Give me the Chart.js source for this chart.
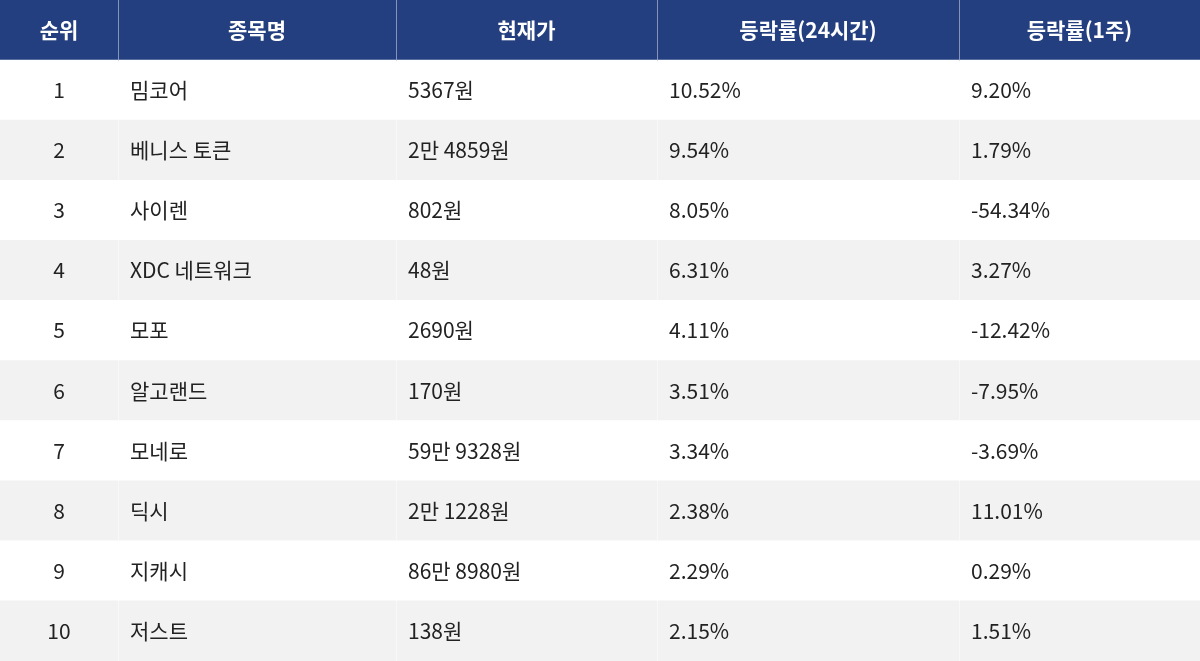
<!DOCTYPE html>
<html><head><meta charset="utf-8">
<script src="https://cdn.jsdelivr.net/npm/chart.js@4"></script>
<style>html,body{margin:0;padding:0;background:#fff}#w{width:1200px;height:661px}</style>
</head><body><div id="w"><canvas id="c"></canvas></div>
<script>
const headers = ['순위','종목명','현재가','등락률(24시간)','등락률(1주)'];
const ranks = ['1','2','3','4','5','6','7','8','9','10'];
const names = ['밈코어','베니스 토큰','사이렌','XDC 네트워크','모포','알고랜드','모네로','딕시','지캐시','저스트'];
const prices = ['5367원','2만 4859원','802원','48원','2690원','170원','59만 9328원','2만 1228원','86만 8980원','138원'];
const change24h = ['10.52%','9.54%','8.05%','6.31%','4.11%','3.51%','3.34%','2.38%','2.29%','2.15%'];
const change1w = ['9.20%','1.79%','-54.34%','3.27%','-12.42%','-7.95%','-3.69%','11.01%','0.29%','1.51%'];

const colEdges = [0,118,396,657,959,1200];
const columns = [ranks,names,prices,change24h,change1w];
const rowLabels = ['header'].concat(ranks);
const fillFor = i => i===0 ? '#233f7f' : (i%2===1 ? '#ffffff' : '#f2f2f2');
const FONT = '"Noto Sans CJK KR","Noto Sans",sans-serif';

const datasets = columns.map((col,ci)=>({
  data: rowLabels.map(()=>[colEdges[ci]+(ci?1:0), colEdges[ci+1]]),
  backgroundColor: rowLabels.map((_,i)=>fillFor(i)),
  borderWidth:0, grouped:false, barPercentage:1, categoryPercentage:1
}));

const textPlugin = {
  id:'cells',
  afterDatasetsDraw(chart){
    const ctx=chart.ctx, x=chart.scales.x, y=chart.scales.y;
    ctx.save(); ctx.textBaseline='middle';
    headers.forEach((h,ci)=>{
      ctx.font='bold 21px '+FONT; ctx.fillStyle='#ffffff'; ctx.textAlign='center';
      ctx.fillText(h,(x.getPixelForValue(colEdges[ci])+x.getPixelForValue(colEdges[ci+1]))/2,y.getPixelForValue(0));
    });
    columns.forEach((col,ci)=>{
      col.forEach((v,ri)=>{
        ctx.font='21px '+FONT; ctx.fillStyle='#222';
        const yy=y.getPixelForValue(ri+1);
        if(ci===0){ctx.textAlign='center';ctx.fillText(v,(x.getPixelForValue(colEdges[0])+x.getPixelForValue(colEdges[1]))/2,yy);}
        else{ctx.textAlign='left';ctx.fillText(v,x.getPixelForValue(colEdges[ci])+12,yy);}
      });
    });
    ctx.restore();
  }
};

new Chart(document.getElementById('c'),{
  type:'bar',
  data:{labels:rowLabels,datasets},
  options:{
    indexAxis:'y',responsive:true,maintainAspectRatio:false,animation:false,
    layout:{padding:0},
    plugins:{legend:{display:false},tooltip:{enabled:false}},
    scales:{
      x:{type:'linear',min:0,max:1200,display:false},
      y:{type:'category',display:false,offset:true}
    }
  },
  plugins:[textPlugin]
});
</script></body></html>
